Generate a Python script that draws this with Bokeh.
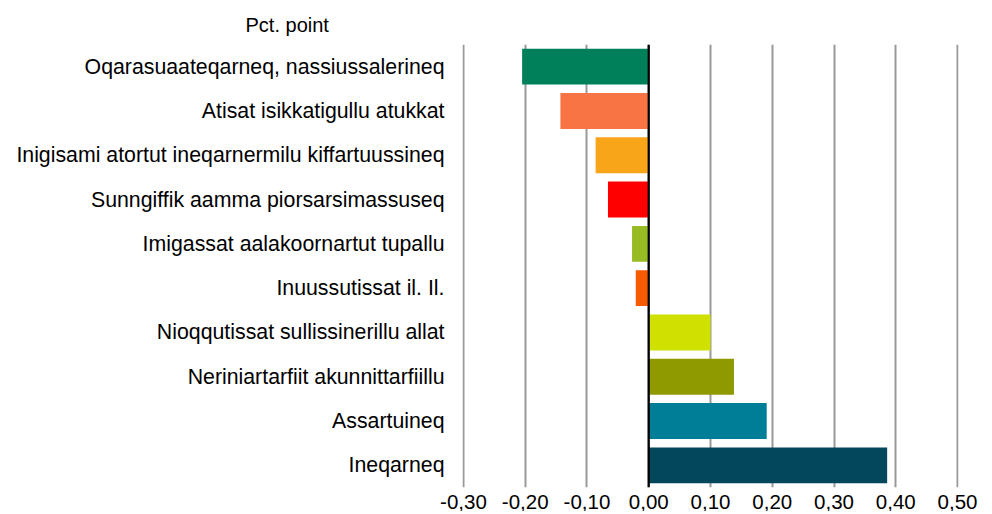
from bokeh.plotting import figure
from bokeh.models import FactorRange, Range1d, Span, FixedTicker
from bokeh.embed import file_html
from bokeh.resources import INLINE

categories = [
    "Oqarasuaateqarneq, nassiussalerineq",
    "Atisat isikkatigullu atukkat",
    "Inigisami atortut ineqarnermilu kiffartuussineq",
    "Sunngiffik aamma piorsarsimassuseq",
    "Imigassat aalakoornartut tupallu",
    "Inuussutissat il. Il.",
    "Nioqqutissat sullissinerillu allat",
    "Neriniartarfiit akunnittarfiillu",
    "Assartuineq",
    "Ineqarneq",
]
values = [-0.205, -0.143, -0.086, -0.066, -0.027, -0.021, 0.100, 0.138, 0.191, 0.386]
colors = ["#00805A", "#F87444", "#F8A51A", "#FF0000", "#97BB22",
          "#F85A00", "#D0E000", "#8F9900", "#007E98", "#02475C"]
tick_values = [-0.3, -0.2, -0.1, 0.0, 0.1, 0.2, 0.3, 0.4, 0.5]
tick_labels = ["-0,30", "-0,20", "-0,10", "0,00", "0,10", "0,20", "0,30", "0,40", "0,50"]
title_text = "Pct. point"

FONT = "Liberation Sans"

p = figure(
    y_range=FactorRange(*reversed(categories), range_padding=0),
    x_range=Range1d(-0.3015, 0.5015),
    frame_width=496, frame_height=443,
    min_border_left=462, min_border_right=20, min_border_top=44, min_border_bottom=0,
    output_backend="svg", toolbar_location=None,
    title=title_text,
)
p.outline_line_color = None
p.background_fill_color = "white"
p.border_fill_color = "white"

p.title.align = "left"
p.title.offset = -217
p.title.standoff = 18
p.title.text_font = FONT
p.title.text_font_size = "20px"
p.title.text_font_style = "normal"
p.title.text_color = "#000000"

p.hbar(y=categories, right=values, left=0, height=0.81, color=colors, line_color=None)

p.xgrid.ticker = FixedTicker(ticks=tick_values)
p.xgrid.grid_line_color = "#999999"
p.xgrid.grid_line_width = 2
p.ygrid.grid_line_color = None

zero = Span(location=0, dimension="height", line_color="black", line_width=2.2)
p.add_layout(zero)

p.xaxis.ticker = FixedTicker(ticks=tick_values)
p.xaxis.major_label_overrides = dict(zip(tick_values, tick_labels))
p.xaxis.axis_line_color = None
p.xaxis.major_tick_line_color = None
p.xaxis.minor_tick_line_color = None
p.xaxis.major_label_standoff = 1
p.xaxis.major_label_text_font = FONT
p.xaxis.major_label_text_font_size = "20.5px"
p.xaxis.major_label_text_color = "#000000"

p.yaxis.axis_line_color = None
p.yaxis.major_tick_line_color = None
p.yaxis.minor_tick_line_color = None
p.yaxis.major_label_standoff = 12
p.yaxis.major_label_text_font = FONT
p.yaxis.major_label_text_font_size = "21.3px"
p.yaxis.major_label_text_color = "#000000"

open("out.html", "w").write(file_html(p, INLINE))
